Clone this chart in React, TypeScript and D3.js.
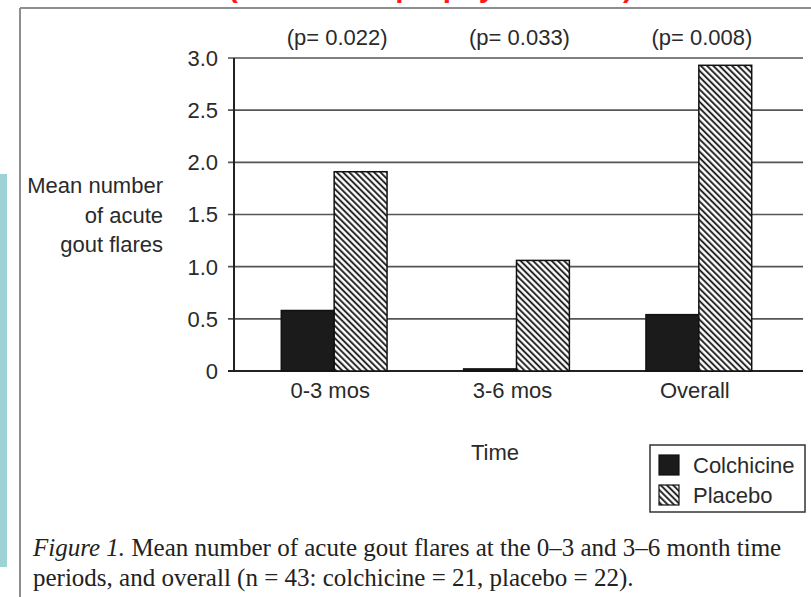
import * as d3 from "d3";

const categories = ["0-3 mos", "3-6 mos", "Overall"];
const colchicine = [0.58, 0.02, 0.54];
const placebo = [1.91, 1.06, 2.93];
const pLabels = ["(p= 0.022)", "(p= 0.033)", "(p= 0.008)"];
const series = ["Colchicine", "Placebo"];
const yTicks = [0, 0.5, 1.0, 1.5, 2.0, 2.5, 3.0];
const yLabelLines = ["Mean number", "of acute", "gout flares"];
const captionItalic = "Figure 1.";
const captionLine1 = " Mean number of acute gout flares at the 0\u20133 and 3\u20136 month time";
const captionLine2 = "periods, and overall (n = 43: colchicine = 21, placebo = 22).";
const slideTitle = "(Colchicine prophylaxis trial)";

const W = 811;
const H = 597;
const SANS = "'Liberation Sans', Arial, sans-serif";
const SERIF = "'Liberation Serif', 'Times New Roman', serif";

export default function App() {
  const axisX = 234;
  const gridEnd = 803;
  const y = d3.scaleLinear().domain([0, 3]).range([371, 58]);
  const x = d3.scaleBand<string>().domain(categories).range([243, 790])
    .paddingInner(0.42).paddingOuter(0.21);
  const xs = d3.scaleBand<string>().domain(series).range([0, x.bandwidth()]);
  const fmt = (d: number) => (d === 0 ? "0" : d3.format(".1f")(d));
  const values: Record<string, number[]> = { Colchicine: colchicine, Placebo: placebo };
  const fills: Record<string, string> = { Colchicine: "#1b1b1b", Placebo: "url(#hatch)" };

  return (
    <svg width={W} height={H} style={{ position: "fixed", left: 0, top: 0, background: "#fff" }}>
      <defs>
        <pattern id="hatch" patternUnits="userSpaceOnUse" width={4.4} height={10}
          patternTransform="rotate(-45)">
          <rect width={4.4} height={10} fill="#fff" />
          <line x1={1.1} y1={0} x2={1.1} y2={10} stroke="#111" strokeWidth={1.8} />
        </pattern>
      </defs>

      {/* slide title, cut off at the top edge as in the source slide */}
      <text x={228} y={-3} fill="#ff1a1a" fontFamily={SANS} fontWeight="bold" fontSize={29.5}>
        {slideTitle}
      </text>

      {/* teal side strip + scanned frame */}
      <rect x={0} y={174} width={7} height={393} fill="#9ed3d6" />
      <line x1={20} y1={8} x2={W} y2={8} stroke="#8e8e8e" strokeWidth={2} />
      <line x1={20} y1={8} x2={20} y2={H} stroke="#8e8e8e" strokeWidth={2} />

      {/* grid + ticks */}
      {yTicks.map(t => (
        <g key={t}>
          <line x1={axisX - 6} x2={gridEnd} y1={y(t)} y2={y(t)}
            stroke={t === 0 ? "#222" : "#555"} strokeWidth={t === 0 ? 2 : 1.6} />
          <text x={218} y={y(t)} dy="0.36em" textAnchor="end" fontFamily={SANS}
            fontSize={22} fill="#2a2a2a">{fmt(t)}</text>
        </g>
      ))}
      <line x1={axisX} x2={axisX} y1={y(3)} y2={y(0)} stroke="#222" strokeWidth={2} />

      {/* bars */}
      {categories.map((c, i) => (
        <g key={c} transform={`translate(${x(c)},0)`}>
          {series.map(s => (
            <rect key={s} x={xs(s)} width={xs.bandwidth()}
              y={y(values[s][i])} height={y(0) - y(values[s][i])}
              fill={fills[s]} stroke="#111" strokeWidth={1.5} />
          ))}
        </g>
      ))}

      {/* p values */}
      {categories.map((c, i) => (
        <text key={c} x={(x(c) ?? 0) + x.bandwidth() / 2 + 3} y={45} textAnchor="middle"
          fontFamily={SANS} fontSize={22} fill="#2a2a2a">{pLabels[i]}</text>
      ))}

      {/* category labels */}
      {categories.map(c => (
        <text key={c} x={(x(c) ?? 0) + x.bandwidth() / 2 - 4} y={398} textAnchor="middle"
          fontFamily={SANS} fontSize={22} fill="#2a2a2a">{c}</text>
      ))}

      <text x={495} y={460} textAnchor="middle" fontFamily={SANS} fontSize={22} fill="#2a2a2a">Time</text>

      {/* y label */}
      {yLabelLines.map((l, i) => (
        <text key={l} x={163} y={193 + i * 29.5} textAnchor="end" fontFamily={SANS}
          fontSize={22} fill="#2a2a2a">{l}</text>
      ))}

      {/* legend */}
      <rect x={650} y={445} width={155} height={67} fill="#fff" stroke="#333" strokeWidth={1.5} />
      {series.map((s, i) => (
        <g key={s} transform={`translate(659,${455 + i * 30})`}>
          <rect width={20} height={20} fill={fills[s]} stroke="#111" strokeWidth={1.2} />
          <text x={34} y={10} dy="0.36em" fontFamily={SANS} fontSize={22} fill="#2a2a2a">{s}</text>
        </g>
      ))}

      {/* caption */}
      <text x={33} y={556} fontFamily={SERIF} fontSize={25} fill="#222">
        <tspan fontStyle="italic">{captionItalic}</tspan>
        <tspan>{captionLine1}</tspan>
      </text>
      <text x={33} y={586} fontFamily={SERIF} fontSize={25} fill="#222">{captionLine2}</text>
    </svg>
  );
}
